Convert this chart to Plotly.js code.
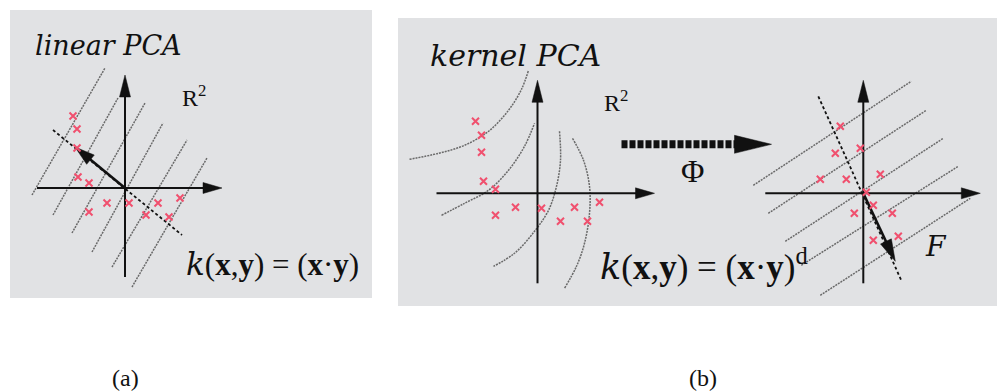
<!DOCTYPE html>
<html>
<head>
<meta charset="utf-8">
<script src="https://cdn.plot.ly/plotly-3.0.1.min.js"></script>
<style>
  html, body { margin: 0; padding: 0; background: #ffffff; }
  #fig { width: 997px; height: 392px; }
</style>
</head>
<body>
<div id="fig"></div>
<script>
// Coordinates are given relative to each diagram's axis origin (y pointing up),
// one unit = one screen pixel.

// ---- (a) linear PCA in R^2 ----
const linPtsX = [-52, -48, -48, -47, -36, -36, -18, 4, 21, 33, 44, 55];
const linPtsY = [72, 59, 40, 11, 5, -24, -15, -15, -27, -15, -29, -10];
// contour lines of the first principal component (start / end points)
const linLineX0 = [-93, -72, -53, -33, -13, 7];
const linLineY0 = [-7, -27, -45, -64, -79, -99];
const linLineX1 = [-20, -7, 20, 38, 62, 82];
const linLineY1 = [120, 90, 85, 65, 48, 30];
const linPcX = [-72, 57];
const linPcY = [58, -47];
const linVecX = [0, -50];
const linVecY = [0, 41];
const linAxisH = [-88, 97];
const linAxisV = [-89, 113];

// ---- (b) kernel PCA, input space R^2 ----
const kerPtsX = [-62, -56, -56, -54, -42, -42, -22, 4, 23, 37, 50, 62];
const kerPtsY = [72, 58, 41, 12, 4, -22, -14, -15, -28, -14, -28, -9];
const curve1X = [-128, -99, -73, -49, -29, -16, -9];
const curve1Y = [34, 40, 48, 62, 83, 104, 123];
const curve2X = [-96, -73, -49, -29, -13, -3];
const curve2Y = [-22, -10, 3, 23, 47, 70];
const curve3X = [22, 23, 19, 11, -3, -23, -44];
const curve3Y = [62, 33, 7, -17, -38, -60, -73];
const curve4X = [35, 46, 52, 52, 47, 39, 27];
const curve4Y = [55, 33, 7, -20, -50, -73, -95];
const kerAxisH = [-101, 117];
const kerAxisV = [-90, 113];
// the map Phi into feature space
const phiX = [84, 234];
const phiY = [49, 49];

// ---- (b) feature space F ----
const featPtsX = [-23, -3, -28, -43, -17, 17, 3, 10, -9, 29, 10, 35];
const featPtsY = [67, 45, 40, 14, 14, 19, 1, -12, -20, -20, -47, -43];
const featLineX0 = [-110, -95, -78, -62, -43];
const featLineY0 = [8, -20, -48, -72, -102];
const featLineX1 = [48, 63, 80, 95, 107];
const featLineY1 = [112, 83, 55, 27, -5];
const featPcX = [-45, 38];
const featPcY = [97, -87];
const featVecX = [0, 32];
const featVecY = [0, -68];
const featAxisH = [-98, 117];
const featAxisV = [-90, 113];

// page geometry
const W = 997, H = 392;
const origins = { a: [125, 188], b: [537.5, 193.3], f: [863.3, 193.3] };

function axisPair(o) {
  const base = { visible: false, fixedrange: true, domain: [0, 1] };
  return [
    Object.assign({}, base, { range: [-o[0], W - o[0]] }),
    Object.assign({}, base, { range: [o[1] - H, o[1]] })
  ];
}

const INK = '#111111';
const GUIDE = '#6a6a6a';
const CROSS = '#f0506e';

const traces = [];

function seg(xs, ys, ax, line) {
  traces.push({ type: 'scatter', mode: 'lines', x: xs, y: ys,
    xaxis: ax[0], yaxis: ax[1], line: line, hoverinfo: 'skip', showlegend: false });
}

// arrow from (x0,y0) to (x1,y1) with a filled triangular head
function arrow(x0, y0, x1, y1, ax, width, headLen, headHalf, dash) {
  const dx = x1 - x0, dy = y1 - y0, len = Math.hypot(dx, dy);
  const ux = dx / len, uy = dy / len, nx = -uy, ny = ux;
  const bx = x1 - ux * headLen, by = y1 - uy * headLen;
  seg([x0, bx + ux * 1], [y0, by + uy * 1], ax,
      { color: INK, width: width, dash: dash || 'solid' });
  traces.push({ type: 'scatter', mode: 'lines', fill: 'toself', fillcolor: INK,
    x: [x1, bx + nx * headHalf, bx - nx * headHalf, x1],
    y: [y1, by + ny * headHalf, by - ny * headHalf, y1],
    xaxis: ax[0], yaxis: ax[1], line: { color: INK, width: 0.5 },
    hoverinfo: 'skip', showlegend: false });
}

function axesCross(h, v, ax) {
  arrow(h[0], 0, h[1], 0, ax, 2, 19, 5.5);
  arrow(0, v[0], 0, v[1], ax, 2, 22, 5.5);
}

function crosses(xs, ys, ax) {
  traces.push({ type: 'scatter', mode: 'markers', x: xs, y: ys,
    xaxis: ax[0], yaxis: ax[1], hoverinfo: 'skip', showlegend: false,
    marker: { symbol: 'x-thin', size: 7, line: { color: CROSS, width: 2 } } });
}

const guideLine = { color: GUIDE, width: 1.5, dash: '2px,1px' };
const pcLine = { color: INK, width: 1.8, dash: '3px,2.5px' };

// (a)
const A = ['x', 'y'];
for (let i = 0; i < linLineX0.length; i++) {
  seg([linLineX0[i], linLineX1[i]], [linLineY0[i], linLineY1[i]], A, guideLine);
}
seg(linPcX, linPcY, A, pcLine);
axesCross(linAxisH, linAxisV, A);
arrow(linVecX[0], linVecY[0], linVecX[1], linVecY[1], A, 2.6, 20, 6);
crosses(linPtsX, linPtsY, A);

// (b) input space
const B = ['x2', 'y2'];
[[curve1X, curve1Y], [curve2X, curve2Y], [curve3X, curve3Y], [curve4X, curve4Y]].forEach(c => {
  traces.push({ type: 'scatter', mode: 'lines', x: c[0], y: c[1], xaxis: 'x2', yaxis: 'y2',
    line: Object.assign({ shape: 'spline', smoothing: 1 }, guideLine),
    hoverinfo: 'skip', showlegend: false });
});
axesCross(kerAxisH, kerAxisV, B);
crosses(kerPtsX, kerPtsY, B);
arrow(phiX[0], phiY[0], phiX[1], phiY[1], B, 8, 37, 9, '6px,2px');

// (b) feature space
const C = ['x3', 'y3'];
for (let i = 0; i < featLineX0.length; i++) {
  seg([featLineX0[i], featLineX1[i]], [featLineY0[i], featLineY1[i]], C, guideLine);
}
seg(featPcX, featPcY, C, pcLine);
axesCross(featAxisH, featAxisV, C);
arrow(featVecX[0], featVecY[0], featVecX[1], featVecY[1], C, 2.6, 22, 6);
crosses(featPtsX, featPtsY, C);

// labels (page pixel positions)
function px(x) { return x / W; }
function py(y) { return 1 - y / H; }
const SERIF = '"Liberation Serif", serif';
const ITALIC = '"DejaVu Serif", serif';   // serif face that ships an italic
function label(text, x, y, size, xanchor, family) {
  return { text: text, xref: 'paper', yref: 'paper', x: px(x), y: py(y),
    xanchor: xanchor || 'center', yanchor: 'middle', showarrow: false,
    font: { family: family || SERIF, size: size, color: INK } };
}
const kItalic = '<span style="font-family:\'DejaVu Serif\';font-style:italic">k</span>';
const kernelText = kItalic + '(<b>x</b>,<b>y</b>) = (<b>x</b>·<b>y</b>)';

const annotations = [
  label('<i>linear PCA</i>', 33, 46, 27, 'left', ITALIC),
  label('R<sup>2</sup>', 194, 96, 24),
  label(kernelText, 184, 264, 31, 'left'),
  label('<i>kernel PCA</i>', 428, 56, 30, 'left', ITALIC),
  label('R<sup>2</sup>', 616, 101, 24),
  label('Φ', 692, 171, 32),
  label(kernelText + '<sup>d</sup>', 598, 264, 35, 'left'),
  label('<i>F</i>', 936, 247, 28, 'center', ITALIC),
  label('(a)', 125, 378, 24),
  label('(b)', 703, 378, 24)
];

const panelFill = '#e1e2e4';
const shapes = [
  { type: 'rect', xref: 'paper', yref: 'paper', layer: 'below',
    x0: px(10), x1: px(372), y0: py(298), y1: py(10), fillcolor: panelFill, line: { width: 0 } },
  { type: 'rect', xref: 'paper', yref: 'paper', layer: 'below',
    x0: px(398), x1: px(997), y0: py(306), y1: py(18), fillcolor: panelFill, line: { width: 0 } }
];

const [xa, ya] = axisPair(origins.a);
const [xb, yb] = axisPair(origins.b);
const [xf, yf] = axisPair(origins.f);

const layout = {
  width: W, height: H,
  margin: { l: 0, r: 0, t: 0, b: 0, pad: 0 },
  paper_bgcolor: '#ffffff', plot_bgcolor: 'rgba(0,0,0,0)',
  showlegend: false,
  font: { family: SERIF, color: INK },
  xaxis: Object.assign(xa, { anchor: 'y' }),
  yaxis: Object.assign(ya, { anchor: 'x' }),
  xaxis2: Object.assign(xb, { anchor: 'y2' }),
  yaxis2: Object.assign(yb, { anchor: 'x2' }),
  xaxis3: Object.assign(xf, { anchor: 'y3' }),
  yaxis3: Object.assign(yf, { anchor: 'x3' }),
  shapes: shapes,
  annotations: annotations
};

Plotly.newPlot('fig', traces, layout, { staticPlot: true, displayModeBar: false });
</script>
</body>
</html>
